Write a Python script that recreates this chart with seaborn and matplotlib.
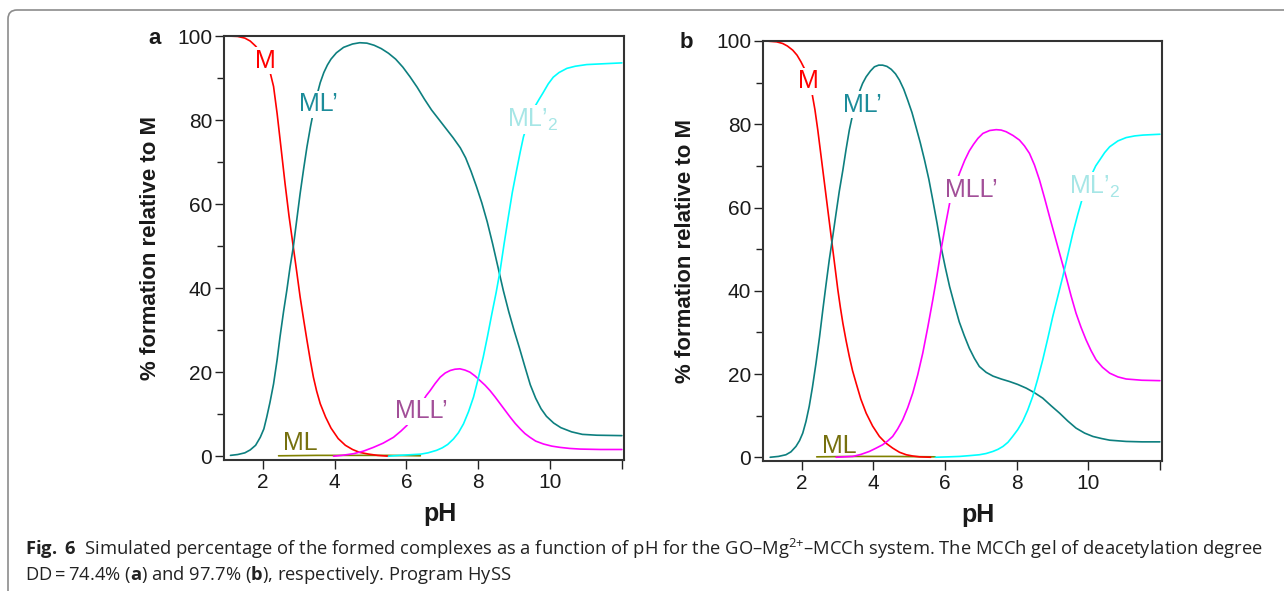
import matplotlib
matplotlib.use("Agg")
import matplotlib.pyplot as plt
import seaborn as sns
import pandas as pd
from matplotlib.patches import FancyBboxPatch
from matplotlib.transforms import IdentityTransform
from matplotlib.ticker import MultipleLocator, FixedLocator

# ---- data (pH, % formation relative to M) ----
# panel a  (DD = 74.4 %)
ph_M_a = [1.0, 1.3, 1.5, 1.65, 1.8, 1.9, 2.0, 2.1, 2.2, 2.3, 2.4, 2.5, 2.62, 2.73, 2.85, 2.95, 3.04, 3.14, 3.23,
          3.32, 3.41, 3.5, 3.6, 3.75, 3.9, 4.1, 4.3, 4.5, 4.7, 4.95, 5.2, 5.5]
M_a = [100, 99.9, 99.5, 98.8, 97.6, 96.5, 95.2, 93.6, 91.5, 88.0, 81.5, 74.0, 64.9, 57.2, 49.8, 43.6, 37.9, 32.4,
       27.6, 23.0, 18.8, 15.5, 12.5, 9.3, 6.7, 4.2, 2.6, 1.6, 0.9, 0.5, 0.2, 0.0]
ph_ML1_a = [1.1, 1.3, 1.5, 1.65, 1.8, 1.93, 2.03, 2.11, 2.2, 2.3, 2.4, 2.48, 2.58, 2.67, 2.76, 2.85, 2.95, 3.04,
            3.14, 3.23, 3.33, 3.43, 3.52, 3.6, 3.7, 3.8, 3.9, 4.05, 4.25, 4.5, 4.7, 4.9, 5.1, 5.3, 5.5, 5.7, 5.9,
            6.1, 6.3, 6.5, 6.7, 6.9, 7.1, 7.3, 7.5, 7.65, 7.8, 7.95, 8.1, 8.25, 8.4, 8.55, 8.7, 8.85, 9.0, 9.15,
            9.3, 9.45, 9.6, 9.75, 9.9, 10.1, 10.3, 10.6, 10.9, 11.3, 12.0]
ML1_a = [0.2, 0.4, 0.8, 1.5, 2.6, 4.5, 6.5, 9.3, 12.8, 17.2, 23.0, 28.4, 34.5, 39.5, 45.0, 49.8, 56.5, 62.5,
         68.5, 73.6, 78.5, 82.8, 86.3, 88.9, 91.3, 93.1, 94.5, 96.0, 97.3, 98.1, 98.4, 98.3, 97.8, 97.0, 95.9,
         94.5, 92.6, 90.3, 87.8, 85.0, 82.4, 80.2, 78.0, 75.8, 73.4, 71.0, 67.8, 64.2, 60.3, 55.8, 50.6, 45.0,
         39.4, 34.4, 29.9, 25.7, 21.3, 17.0, 13.8, 11.3, 9.5, 7.9, 6.8, 5.8, 5.2, 5.0, 4.9]
ph_ML12_a = [5.5, 5.8, 6.1, 6.4, 6.6, 6.84, 7.0, 7.15, 7.31, 7.45, 7.59, 7.73, 7.87, 8.0, 8.14, 8.26, 8.38, 8.5,
             8.61, 8.72, 8.84, 8.95, 9.07, 9.17, 9.26, 9.4, 9.55, 9.7, 9.8, 9.95, 10.09, 10.25, 10.47, 10.7,
             11.02, 11.5, 12.0]
ML12_a = [0.0, 0.2, 0.35, 0.5, 0.8, 1.4, 2.0, 2.8, 4.1, 5.6, 7.7, 10.6, 14.1, 18.5, 23.6, 28.6, 33.9, 39.0,
          44.2, 50.5, 57.0, 62.8, 68.1, 72.4, 76.0, 79.8, 82.8, 85.0, 86.4, 88.6, 90.2, 91.3, 92.3, 92.8,
          93.2, 93.4, 93.6]
ph_MLL_a = [3.97, 4.2, 4.53, 4.8, 5.08, 5.35, 5.64, 5.85, 6.01, 6.2, 6.4, 6.55, 6.66, 6.8, 6.94, 7.08, 7.22,
            7.35, 7.49, 7.63, 7.77, 7.91, 8.05, 8.19, 8.33, 8.47, 8.61, 8.75, 8.89, 9.03, 9.17, 9.3, 9.44, 9.6,
            9.82, 10.05, 10.28, 10.55, 10.84, 11.4, 12.0]
MLL_a = [0.0, 0.2, 0.6, 1.2, 2.1, 3.1, 4.5, 6.0, 7.3, 9.5, 12.3, 14.4, 15.6, 17.3, 18.8, 19.8, 20.4, 20.7, 20.8,
         20.5, 20.0, 19.1, 18.0, 16.9, 15.6, 14.1, 12.5, 10.9, 9.3, 7.8, 6.5, 5.4, 4.5, 3.6, 2.9, 2.4, 2.1,
         1.85, 1.7, 1.6, 1.6]
ph_ML_a = [2.44, 3.5, 4.5, 5.5, 6.39]
ML_a = [0.1, 0.2, 0.2, 0.2, 0.1]

# panel b  (DD = 97.7 %)
ph_M_b = [1.0, 1.3, 1.47, 1.6, 1.75, 1.87, 1.98, 2.08, 2.15, 2.22, 2.29, 2.37, 2.45, 2.52, 2.59, 2.66, 2.73,
          2.8, 2.87, 2.94, 3.01, 3.08, 3.15, 3.24, 3.33, 3.42, 3.52, 3.65, 3.8, 3.98, 4.17, 4.35, 4.54, 4.73,
          4.92, 5.1, 5.29, 5.6]
M_b = [100, 99.8, 99.4, 98.8, 97.8, 96.6, 95.0, 93.3, 91.6, 89.8, 87.4, 83.5, 78.6, 73.8, 69.0, 64.2, 59.4,
       54.6, 49.8, 45.0, 40.2, 36.0, 32.2, 28.0, 24.2, 20.8, 17.8, 14.0, 10.6, 7.5, 5.0, 3.4, 2.2, 1.2, 0.6,
       0.3, 0.1, 0.0]
ph_ML1_b = [1.12, 1.35, 1.56, 1.7, 1.84, 1.94, 2.03, 2.12, 2.21, 2.3, 2.4, 2.5, 2.59, 2.68, 2.77, 2.87, 2.96,
            3.05, 3.15, 3.24, 3.33, 3.43, 3.52, 3.61, 3.7, 3.8, 3.92, 4.03, 4.15, 4.26, 4.38, 4.5, 4.62, 4.73,
            4.85, 4.96, 5.08, 5.19, 5.31, 5.43, 5.55, 5.66, 5.78, 5.89, 6.01, 6.13, 6.27, 6.4, 6.54, 6.68, 6.82,
            6.96, 7.15, 7.34, 7.57, 7.8, 8.03, 8.27, 8.5, 8.73, 8.96, 9.2, 9.43, 9.66, 9.9, 10.13, 10.37, 10.6,
            11.06, 11.5, 12.0]
ML1_b = [0.0, 0.2, 0.6, 1.3, 2.6, 4.0, 5.8, 8.6, 12.2, 16.8, 22.6, 29.0, 35.4, 41.5, 47.4, 53.2, 58.6, 63.9,
         69.0, 74.0, 78.6, 82.6, 85.6, 87.8, 89.8, 91.4, 92.8, 93.8, 94.2, 94.2, 93.9, 93.2, 92.1, 90.6, 88.4,
         85.8, 82.8, 79.4, 75.6, 71.4, 66.8, 61.8, 56.2, 50.6, 45.6, 41.0, 36.5, 32.5, 29.2, 26.2, 23.8, 21.8,
         20.4, 19.5, 18.8, 18.2, 17.5, 16.6, 15.5, 14.2, 12.4, 10.6, 8.7, 7.0, 5.8, 5.0, 4.5, 4.1, 3.8, 3.7, 3.7]
ph_MLL_b = [2.96, 3.2, 3.43, 3.66, 3.89, 4.08, 4.26, 4.4, 4.54, 4.68, 4.82, 4.96, 5.1, 5.24, 5.38, 5.52, 5.66,
            5.78, 5.89, 6.01, 6.13, 6.27, 6.41, 6.55, 6.68, 6.8, 6.92, 7.06, 7.25, 7.43, 7.57, 7.71, 7.9, 8.08,
            8.22, 8.36, 8.5, 8.64, 8.78, 8.92, 9.06, 9.2, 9.38, 9.52, 9.66, 9.8, 9.94, 10.08, 10.22, 10.4, 10.6,
            10.83, 11.06, 11.5, 12.0]
MLL_b = [0.0, 0.1, 0.2, 0.7, 1.4, 2.2, 3.0, 3.9, 5.0, 6.8, 9.0, 11.9, 15.4, 19.8, 25.0, 31.2, 37.8, 43.8, 49.8,
         55.6, 61.0, 65.0, 68.3, 71.3, 73.6, 75.2, 76.6, 77.8, 78.5, 78.7, 78.6, 78.2, 77.3, 76.2, 74.8, 73.0,
         70.2, 66.6, 62.3, 57.8, 53.4, 49.0, 43.4, 38.8, 34.6, 31.2, 28.2, 25.6, 23.4, 21.6, 20.2, 19.3, 18.8,
         18.5, 18.4]
ph_ML12_b = [5.73, 6.1, 6.41, 6.7, 6.96, 7.15, 7.34, 7.48, 7.62, 7.76, 7.89, 8.03, 8.17, 8.31, 8.45, 8.59, 8.73,
             8.87, 9.01, 9.15, 9.29, 9.43, 9.57, 9.71, 9.85, 9.98, 10.1, 10.21, 10.32, 10.46, 10.6, 10.83, 11.06,
             11.3, 11.53, 12.0]
ML12_b = [0.0, 0.1, 0.2, 0.4, 0.6, 0.9, 1.4, 1.9, 2.6, 3.6, 5.0, 6.6, 8.6, 11.3, 14.6, 18.8, 23.4, 28.5, 33.8,
          38.6, 43.4, 48.6, 53.8, 58.4, 62.6, 65.6, 68.0, 70.0, 71.4, 73.2, 74.6, 76.0, 76.8, 77.2, 77.4, 77.6]
ph_ML_b = [2.42, 3.5, 4.5, 5.73]
ML_b = [0.1, 0.2, 0.2, 0.1]

species = ["ML", "M", "ML'", "MLL'", "ML'2"]
line_colors = {"ML": "#808000", "M": "#ff0000", "ML'": "#0d7f7f", "MLL'": "#ff00ff", "ML'2": "#00ffff"}
label_colors = {"ML": "#76700e", "M": "#ff0000", "ML'": "#1c8c9a", "MLL'": "#a24f98", "ML'2": "#a6e6e6"}
label_text = {"ML": "ML", "M": "M", "ML'": "ML\u2019", "MLL'": "MLL\u2019", "ML'2": "ML\u2019$_\\mathregular{2}$"}

# label anchors (left edge pH, baseline %)
labels_a = {"M": (1.79, 92.5), "ML'": (3.01, 82.1), "MLL'": (5.69, 9.0), "ML": (2.57, 1.4), "ML'2": (8.79, 78.4)}
labels_b = {"M": (1.91, 88.6), "ML'": (3.15, 83.0), "MLL'": (6.0, 62.6), "ML": (2.57, 1.1), "ML'2": (9.45, 63.4)}


def long_frame(parts):
    frames = [pd.DataFrame({"pH": ph, "pct": v, "species": name}) for name, ph, v in parts]
    return pd.concat(frames, ignore_index=True)


df_a = long_frame([("ML", ph_ML_a, ML_a), ("M", ph_M_a, M_a), ("ML'", ph_ML1_a, ML1_a),
                   ("MLL'", ph_MLL_a, MLL_a), ("ML'2", ph_ML12_a, ML12_a)])
df_b = long_frame([("ML", ph_ML_b, ML_b), ("M", ph_M_b, M_b), ("ML'", ph_ML1_b, ML1_b),
                   ("MLL'", ph_MLL_b, MLL_b), ("ML'2", ph_ML12_b, ML12_b)])

sns.set_theme(style="ticks")
plt.rcParams["font.family"] = ["Liberation Sans", "DejaVu Sans"]
plt.rcParams["mathtext.fontset"] = "custom"
plt.rcParams["mathtext.rm"] = "Open Sans"
plt.rcParams["mathtext.bf"] = "Open Sans:bold"

fig = plt.figure(figsize=(12.84, 5.91), dpi=100)
ax_a = fig.add_axes([224 / 1284, 1 - 460 / 591, 400 / 1284, 424 / 591])
ax_b = fig.add_axes([763 / 1284, 1 - 461 / 591, 399 / 1284, 420 / 591])

for ax, df, labels, ylab_x in [(ax_a, df_a, labels_a, -0.158), (ax_b, df_b, labels_b, -0.168)]:
    sns.lineplot(data=df, x="pH", y="pct", hue="species", hue_order=species, palette=line_colors,
                 estimator=None, sort=False, linewidth=1.2, legend=False, ax=ax)
    for name, (x, y) in labels.items():
        box = None if name == "ML" else dict(fc="white", ec="none", pad=1.0)
        ax.text(x, y, label_text[name], color=label_colors[name], fontsize=18, ha="left", va="baseline",
                zorder=5, bbox=box)
    ax.set_xlim(0.92, 12.06)
    ax.set_ylim(-0.9, 100)
    ax.xaxis.set_major_locator(FixedLocator([2, 4, 6, 8, 10, 12]))
    ax.set_xticklabels(["2", "4", "6", "8", "10", ""])
    ax.yaxis.set_major_locator(MultipleLocator(20))
    ax.yaxis.set_minor_locator(MultipleLocator(10))
    ax.tick_params(axis="both", which="major", length=6.5, width=1.0, labelsize=15, color="#222222",
                   labelcolor="#1a1a1a")
    ax.tick_params(axis="x", which="major", pad=3)
    ax.tick_params(axis="y", which="major", pad=2)
    ax.tick_params(axis="y", which="minor", length=5, width=1.0, color="#222222")
    for sp in ax.spines.values():
        sp.set_color("#333333")
        sp.set_linewidth(1.5)
    ax.set_xlabel("pH", fontsize=18, fontweight="bold", color="#1a1a1a")
    ax.set_ylabel("% formation relative to M", fontsize=16, fontweight="bold", color="#1a1a1a")
    ax.xaxis.set_label_coords(0.54, -0.1)
    ax.yaxis.set_label_coords(ylab_x, 0.5)

fig.text(148 / 1284, 1 - 44 / 591, "a", fontsize=16, fontweight="bold", va="baseline", color="#1a1a1a")
fig.text(680 / 1284, 1 - 48 / 591, "b", fontsize=16, fontweight="bold", va="baseline", color="#1a1a1a")

# caption
cap1 = ("$\\mathbf{Fig.}$$\\mathbf{6}$  Simulated percentage of the formed complexes as a function of pH for the "
        "GO\u2013Mg$^{2{+}}$\u2013MCCh system. The MCCh gel of deacetylation degree")
cap2 = "DD\u2009=\u200974.4% ($\\mathbf{a}$) and 97.7% ($\\mathbf{b}$), respectively. Program HySS"
cap1 = cap1.replace("$$", "$ $")
fig.text(25 / 1284, 1 - 549 / 591, cap1, fontsize=13.2, family="Open Sans", va="center", color="#222222")
fig.text(25 / 1284, 1 - 575 / 591, cap2, fontsize=13.2, family="Open Sans", va="center", color="#222222")

# outer frame of the figure panel
frame = FancyBboxPatch((8, -30), 1320, 611, boxstyle="round,pad=0,rounding_size=9",
                       transform=IdentityTransform(), fill=False, ec="#8c8c8c", lw=1.2)
fig.add_artist(frame)

fig.savefig("out.png", dpi=100)
